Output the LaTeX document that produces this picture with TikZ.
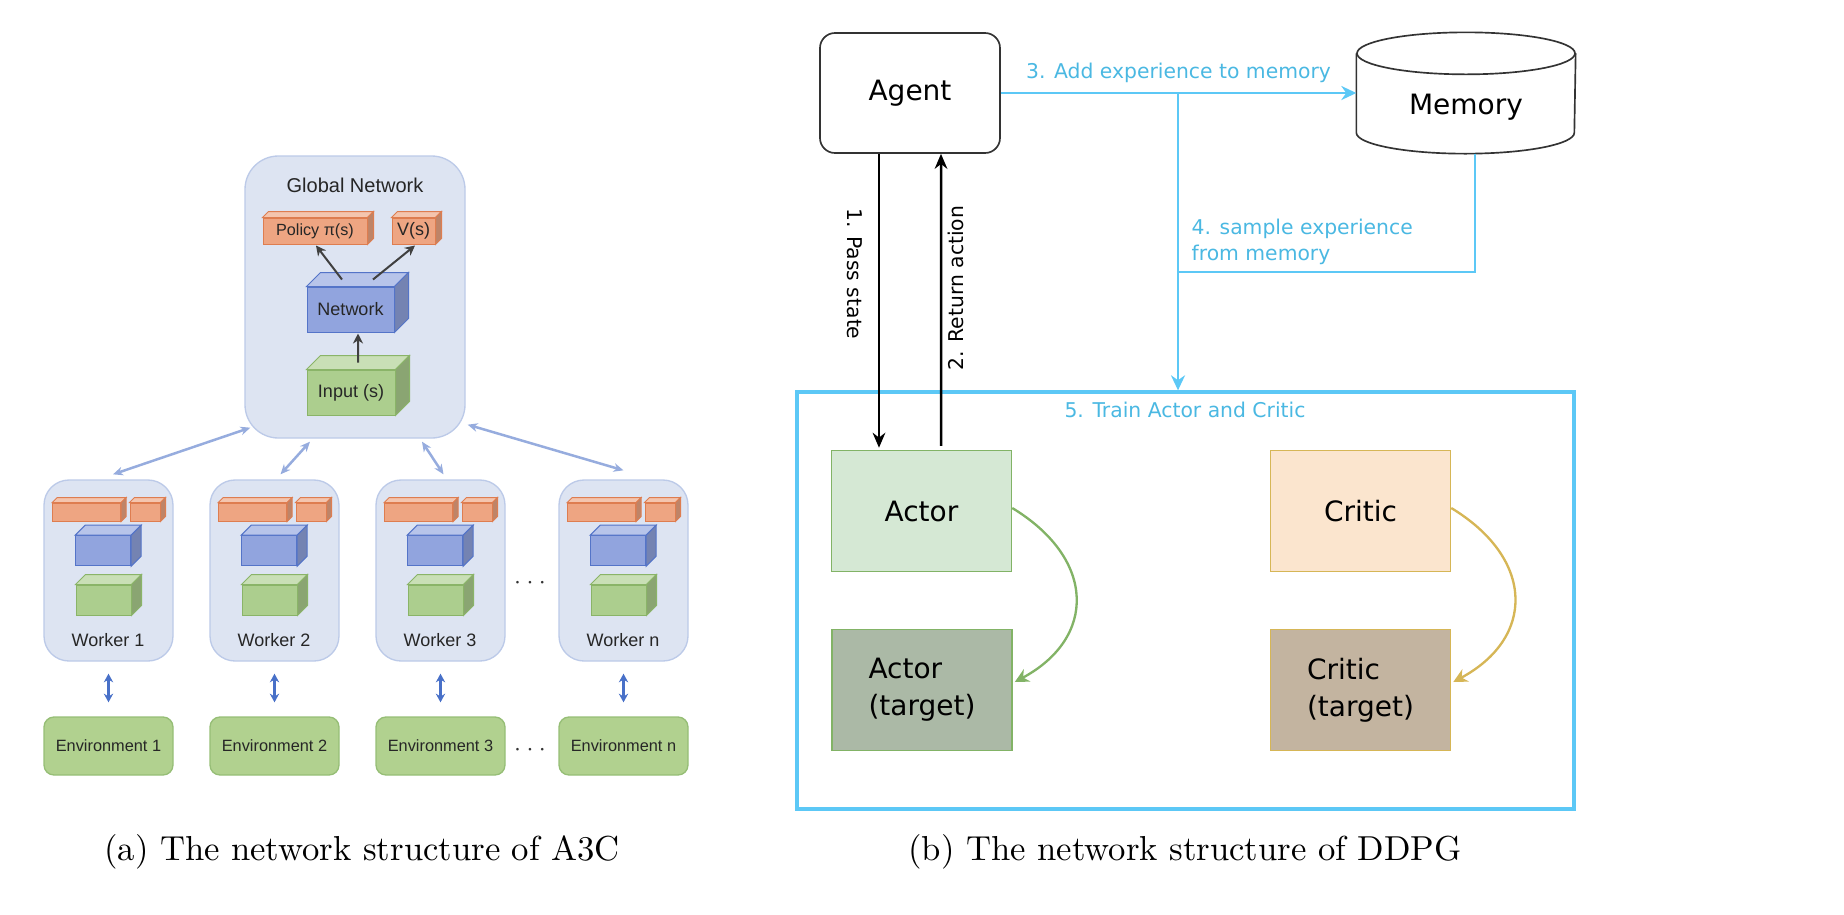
\documentclass[tikz,border=0pt]{standalone}
\usepackage{fontspec}
\newfontfamily\arialfont{Liberation Sans}
\newfontfamily\dejafont{DejaVu Sans}
\usetikzlibrary{arrows.meta,calc}
\definecolor{boxblue}{RGB}{221,228,242}
\definecolor{boxblueline}{RGB}{188,202,232}
\definecolor{cubeorange}{RGB}{238,165,130}
\definecolor{cubeorangeline}{RGB}{222,125,80}
\definecolor{cubeblue}{RGB}{145,164,222}
\definecolor{cubeblueline}{RGB}{84,116,200}
\definecolor{cubegreen}{RGB}{172,206,142}
\definecolor{cubegreenline}{RGB}{138,180,104}
\definecolor{envgreen}{RGB}{177,209,143}
\definecolor{envgreenline}{RGB}{150,190,118}
\definecolor{syncblue}{RGB}{150,172,222}
\definecolor{envarrow}{RGB}{72,112,200}
\definecolor{ddpgcyan}{RGB}{92,200,246}
\definecolor{ddpgtext}{RGB}{74,184,226}
\definecolor{actorfill}{RGB}{213,232,212}
\definecolor{actorline}{RGB}{130,179,102}
\definecolor{actortfill}{RGB}{171,185,166}
\definecolor{criticfill}{RGB}{251,229,206}
\definecolor{criticline}{RGB}{214,182,86}
\definecolor{critictfill}{RGB}{195,180,160}
% top and side faces of a box drawn as a node
\newcommand{\cubefaces}[4]{%
    \draw[#4, fill=#3!65!white, line width=0.3pt] (#1.north west) -- ++(#2,-#2) -- ($(#1.north east)+(#2,-#2)$) -- (#1.north east) -- cycle;
    \draw[#4, fill=#3!80!black, line width=0.3pt] (#1.north east) -- ++(#2,-#2) -- ($(#1.south east)+(#2,-#2)$) -- (#1.south east) -- cycle;}
\tikzset{
    panel/.style={draw=boxblueline, fill=boxblue, line width=0.4pt},
    env/.style={draw=envgreenline, fill=envgreen, line width=0.4pt, rounded corners=3pt, minimum width=38.7pt, minimum height=17.4pt, font=\arialfont\fontsize{4.9}{6}\selectfont, text=black!85},
    cubeo/.style={draw=cubeorangeline, fill=cubeorange, line width=0.3pt},
    cubeb/.style={draw=cubeblueline, fill=cubeblue, line width=0.3pt},
    cubeg/.style={draw=cubegreenline, fill=cubegreen, line width=0.3pt},
    a3c/.style={font=\arialfont\fontsize{5.4}{6.5}\selectfont, text=black!85},
    sync/.style={syncblue, line width=0.75pt, {Stealth[length=3pt,width=2.6pt]}-{Stealth[length=3pt,width=2.6pt]}},
    envlink/.style={envarrow, line width=0.75pt, {Stealth[length=2.6pt,width=2.8pt]}-{Stealth[length=2.6pt,width=2.8pt]}},
    inarrow/.style={black!75, line width=0.6pt, -{Stealth[length=3pt,width=3pt]}},
    ddpg/.style={font=\dejafont\fontsize{8.4}{11}\selectfont},
    ddpglabel/.style={font=\dejafont\fontsize{6.1}{7.8}\selectfont},
    flowlabel/.style={ddpglabel, text=ddpgtext},
    flow/.style={ddpgcyan, line width=0.85pt},
    blackarrow/.style={line width=0.75pt, -{Stealth[length=4.5pt,width=3.8pt]}},
    netbox/.style={minimum width=54pt, minimum height=36.3pt, line width=0.45pt, ddpg},
    caption/.style={font=\fontsize{10.4}{12.5}\selectfont, anchor=base}
}
\begin{document}
\begin{tikzpicture}[x=0.3pt, y=-0.3pt, every node/.style={inner sep=0pt}]
                \useasboundingbox (0,0) rectangle (1844,914);
                % (a) A3C
                \node[panel, rounded corners=10pt, minimum width=66pt, minimum height=84.6pt] (gnet) at (355,297) {};
                \node[a3c, font=\arialfont\fontsize{6}{7}\selectfont] (gtitle) at (355,185) {Global Network};
                \node[cubeo, minimum width=31.2pt, minimum height=7.8pt] (policy) at (315,231) {};
                \node[cubeo, minimum width=12.9pt, minimum height=7.8pt] (value) at (413.5,231) {};
                \node[cubeb, minimum width=26.1pt, minimum height=13.5pt] (gnetw) at (350.5,309.5) {};
                \node[cubeg, minimum width=26.4pt, minimum height=13.5pt] (ginput) at (351,392.5) {};
                \cubefaces{policy}{6}{cubeorange}{cubeorangeline}
                \cubefaces{value}{6}{cubeorange}{cubeorangeline}
                \cubefaces{gnetw}{14}{cubeblue}{cubeblueline}
                \cubefaces{ginput}{14}{cubegreen}{cubegreenline}
                \node[a3c, font=\arialfont\fontsize{4.85}{6}\selectfont] at (policy) {Policy π(s)};
                \node[a3c, font=\arialfont\fontsize{5.4}{6}\selectfont] at (value) {V(s)};
                \node[a3c] at (gnetw) {Network};
                \node[a3c] at (ginput) {Input (s)};
                \draw[inarrow] ($(gnetw.north)+(-8.5,-7)$) -- ($(policy.south)+(1,1)$);
                \draw[inarrow] ($(gnetw.north)+(22.5,-7)$) -- ($(value.south)+(1.5,1)$);
                \draw[inarrow] ($(ginput.north)+(7,-7)$) -- ($(gnetw.south)+(7.5,1)$);
                \foreach \L/\n in {44/1, 210/2, 376/3, 559/n} {
                    \node[panel, rounded corners=7.5pt, minimum width=38.7pt, minimum height=54.3pt] (w\n) at (\L+64.5,570.5) {};
                    \node[cubeo, minimum width=20.4pt, minimum height=5.4pt] (po\n) at (\L+42.7,512) {};
                    \node[cubeo, minimum width=9pt, minimum height=5.4pt] (vo\n) at (\L+101,512) {};
                    \node[cubeb, minimum width=16.5pt, minimum height=9pt] (nb\n) at (\L+59.2,550.7) {};
                    \node[cubeg, minimum width=16.5pt, minimum height=9pt] (ig\n) at (\L+59.5,600) {};
                    \cubefaces{po\n}{5}{cubeorange}{cubeorangeline}
                    \cubefaces{vo\n}{5}{cubeorange}{cubeorangeline}
                    \cubefaces{nb\n}{10}{cubeblue}{cubeblueline}
                    \cubefaces{ig\n}{10}{cubegreen}{cubegreenline}
                    \node[a3c] (wl\n) at (\L+64,640) {Worker \n};
                    \node[env] (env\n) at (\L+64.5,746) {Environment \n};
                    \draw[envlink] ($(w\n.south)+(0,12)$) -- ($(env\n.north)+(0,-14)$);
                }
                \draw[sync] ($(gnet.south west)+(6,-11)$) -- ($(w1.north)+(4.5,-5)$);
                \draw[sync] ($(gnet.south)+(-45,3)$) -- ($(w2.north)+(6,-5)$);
                \draw[sync] ($(gnet.south)+(67,3)$) -- ($(w3.north)+(3,-5)$);
                \draw[sync] ($(gnet.south east)+(2,-14)$) -- ($(wn.north)+(0,-9)$);
                \node[font=\fontsize{7.5}{8}\selectfont, text=black!80] (dotsw) at (530,583) {$\cdots$};
                \node[font=\fontsize{7.5}{8}\selectfont, text=black!80] (dotse) at (530,750) {$\cdots$};
                % (b) DDPG
                \node[draw=black!80, rounded corners=4.5pt, minimum width=54pt, minimum height=36pt, line width=0.5pt, ddpg] (agent) at (910,93) {Agent};
                \node[minimum width=65.4pt, minimum height=36pt] (memory) at (1466,93) {};
                \draw[black!80, line width=0.5pt, fill=white] ($(memory.north west)+(0,21)$) -- ($(memory.south west)+(0,-21)$) arc[start angle=180, end angle=360, x radius=32.7pt, y radius=6.3pt] -- ($(memory.north east)+(0,21)$);
                \draw[black!80, line width=0.5pt, fill=white] ($(memory.north)+(0,21)$) ellipse[x radius=32.7pt, y radius=6.3pt];
                \node[ddpg] (memlabel) at (1466,107) {Memory};
                \node[draw=ddpgcyan, line width=1pt, minimum width=233.1pt, minimum height=125.1pt] (train) at (1185.5,600.5) {};
                \node[flowlabel] (trainlbl) at (1185,410) {5. Train Actor and Critic};
                \coordinate (split) at (1178,93);
                \coordinate (join) at (1178,272);
                \draw[flow, -{Stealth[length=4.5pt,width=4.2pt]}] (agent.east) -- (memory.west);
                \node[flowlabel] (addlbl) at (1178.5,73) {3. Add experience to memory};
                \draw[flow, -{Stealth[length=4.5pt,width=4.2pt]}] (split) -- (split |- train.north);
                \draw[flow] ($(memory.south)+(9,0)$) |- (join);
                \node[flowlabel, anchor=west, align=left] (samplelbl) at (1191,242) {4. sample experience\\from memory};
                \node[netbox, draw=actorline, fill=actorfill] (actor) at (921.5,511) {Actor};
                \node[netbox, draw=actorline, fill=actortfill, align=left] (actorT) at (922,690) {Actor\\(target)};
                \node[netbox, draw=criticline, fill=criticfill] (critic) at (1360.5,511) {Critic};
                \node[netbox, draw=criticline, fill=critictfill, align=left] (criticT) at (1360.5,690) {Critic\\(target)};
                \draw[blackarrow] ($(agent.south)+(-31,0)$) -- ($(actor.north)+(-42.5,-2)$);
                \draw[blackarrow] ($(actor.north)+(19.5,-4)$) -- ($(agent.south)+(31,0)$);
                \node[ddpglabel, rotate=-90] (passlbl) at (855,274) {1. Pass state};
                \node[ddpglabel, rotate=90] (retlbl) at (956,288) {2. Return action};
                \draw[actorline, line width=0.7pt, -{Stealth[length=4.2pt,width=4.2pt]}] ($(actor.east)+(0,-3)$) .. controls ($(actor.east)+(84,48)$) and ($(actorT.east)+(84,-52)$) .. ($(actorT.east)+(2,-8)$);
                \draw[criticline, line width=0.7pt, -{Stealth[length=4.2pt,width=4.2pt]}] ($(critic.east)+(0,-3)$) .. controls ($(critic.east)+(84,48)$) and ($(criticT.east)+(84,-52)$) .. ($(criticT.east)+(2,-8)$);
                % captions
                \node[caption] (capa) at (362,860) {(a)\ The network structure of A3C};
                \node[caption] (capb) at (1185,860) {(b)\ The network structure of DDPG};
\end{tikzpicture}
\end{document}
